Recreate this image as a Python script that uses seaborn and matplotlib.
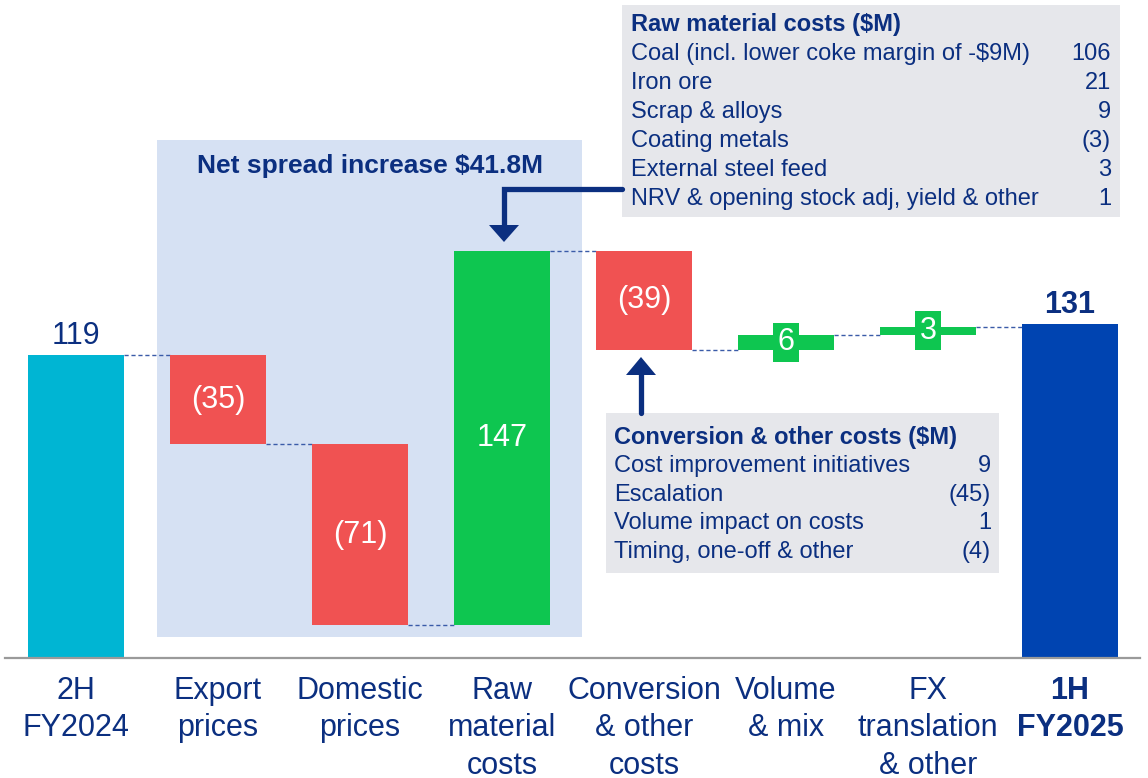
import matplotlib.pyplot as plt
import numpy as np
import seaborn as sns
from matplotlib.patches import Rectangle, Polygon
from matplotlib.lines import Line2D
from matplotlib.transforms import Affine2D

# Data
labels = ["2H\nFY2024", "Export\nprices", "Domestic\nprices", "Raw\nmaterial\ncosts",
          "Conversion\n& other\ncosts", "Volume\n& mix", "FX\ntranslation\n& other", "1H\nFY2025"]
changes = [119, -35, -71, 147, -39, 6, 3]
final_total = 131
bar_text = ["119", "(35)", "(71)", "147", "(39)", "6", "3", "131"]

raw_items = ["Coal (incl. lower coke margin of -$9M)", "Iron ore", "Scrap & alloys",
             "Coating metals", "External steel feed", "NRV & opening stock adj, yield & other"]
raw_values = ["106", "21", "9", "(3)", "3", "1"]
conv_items = ["Cost improvement initiatives", "Escalation", "Volume impact on costs",
              "Timing, one-off & other"]
conv_values = ["9", "(45)", "1", "(4)"]

NAVY = "#0B2F80"
TEAL = "#00B5D3"
RED = "#F05252"
GREEN = "#0EC650"
BLUE = "#0044B1"
SHADE = "#D6E1F3"
BOXGRAY = "#E6E7EB"

sns.set_theme(style="white")
plt.rcParams["font.family"] = ["Liberation Sans", "DejaVu Sans"]

# waterfall geometry
ends = np.cumsum(changes)
starts = ends - np.array(changes)
bottoms = list(np.minimum(starts, ends)) + [0]
heights = list(np.abs(changes)) + [final_total]
colors = [TEAL] + [RED if c < 0 else GREEN for c in changes[1:]] + [BLUE]

W, H = 1148, 778
fig = plt.figure(figsize=(W / 100, H / 100), dpi=100)
ax = fig.add_axes([0, 120 / H, 1, 658 / H])
ax.set_zorder(1)
# pixel transform (origin top-left) for annotation furniture
px = Affine2D().scale(1 / W, -1 / H).translate(0, 1) + fig.transFigure

# shaded "net spread" region
fig.patches.append(Rectangle((157, 140), 425, 497, transform=px, fc=SHADE, ec="none", zorder=-1))

bar_w = 0.67
sns.barplot(x=labels, y=heights, order=labels, bottom=bottoms, color=TEAL,
            width=bar_w, errorbar=None, ax=ax, zorder=2)
bars = list(ax.patches)[:len(labels)]
for b, c in zip(bars, colors):
    b.set_facecolor(c)
    b.set_edgecolor("none")

ax.set_facecolor("none")
ax.set_xlim(-76 / 142, (W - 76) / 142)
ax.set_ylim(0, 658 / 2.546)
for s in ["top", "right", "left"]:
    ax.spines[s].set_visible(False)
ax.spines["bottom"].set_color("#9A9A9A")
ax.spines["bottom"].set_linewidth(1.6)
ax.spines["bottom"].set_bounds(-0.5, 7.49)
ax.set_yticks([])
ax.set_ylabel("")
ax.tick_params(axis="x", length=0, pad=13, labelsize=22, labelcolor=NAVY)
for t in ax.get_xticklabels():
    t.set_linespacing(1.32)
ax.get_xticklabels()[-1].set_fontweight("bold")

# connectors
for i, lvl in enumerate(ends):
    ax.plot([i + bar_w / 2, i + 1 - bar_w / 2], [lvl, lvl], ls=(0, (3, 2)),
            color="#3A5BA8", lw=1.0, zorder=1)

# value labels
ax.text(0, heights[0] + 1.5, bar_text[0], ha="center", va="bottom", fontsize=22, color=NAVY)
ax.text(7, final_total + 1.8, bar_text[7], ha="center", va="bottom", fontsize=22,
        color=NAVY, fontweight="bold")
for i in range(1, 5):
    ax.text(i, bottoms[i] + heights[i] / 2, bar_text[i], ha="center", va="center",
            fontsize=22, color="white", zorder=3)
for i in (5, 6):
    ax.text(i, bottoms[i] + heights[i] / 2, bar_text[i], ha="center", va="center",
            fontsize=22, color="white", zorder=3,
            bbox=dict(boxstyle="square,pad=0.15", fc=GREEN, ec="none"))

# net spread title
fig.text(370 / W, 1 - 166 / H, "Net spread increase $41.8M", ha="center", va="center",
         fontsize=19, fontweight="bold", color=NAVY)

# raw material box
fig.patches.append(Rectangle((622, 5), 498, 212, transform=px, fc=BOXGRAY, ec="none", zorder=1))
fig.text(631 / W, 1 - 25 / H, "Raw material costs ($M)", ha="left", va="center",
         fontsize=17, fontweight="bold", color=NAVY, zorder=3)
for k, (t, v) in enumerate(zip(raw_items, raw_values)):
    y = 1 - (54 + 29 * k) / H
    fig.text(631 / W, y, t, ha="left", va="center", fontsize=17, color=NAVY, zorder=3)
    fig.text(1111 / W, y, v, ha="right", va="center", fontsize=17, color=NAVY, zorder=3)

# conversion box
fig.patches.append(Rectangle((606, 413), 393, 160, transform=px, fc=BOXGRAY, ec="none", zorder=1))
fig.text(614 / W, 1 - 437 / H, "Conversion & other costs ($M)", ha="left", va="center",
         fontsize=17, fontweight="bold", color=NAVY, zorder=3)
for k, (t, v) in enumerate(zip(conv_items, conv_values)):
    y = 1 - (466 + 28.7 * k) / H
    fig.text(614 / W, y, t, ha="left", va="center", fontsize=17, color=NAVY, zorder=3)
    fig.text(991 / W, y, v, ha="right", va="center", fontsize=17, color=NAVY, zorder=3)

# arrows
fig.lines.append(Line2D([622, 504, 504], [189, 189, 228], transform=px, color=NAVY,
                        lw=3.8, solid_joinstyle="miter", zorder=2))
fig.patches.append(Polygon([(489, 225), (519, 225), (504, 242)], closed=True, transform=px,
                           fc=NAVY, ec="none", zorder=2))
fig.lines.append(Line2D([641, 641], [413, 372], transform=px, color=NAVY, lw=3.8, zorder=2))
fig.patches.append(Polygon([(626, 375), (656, 375), (641, 357)], closed=True, transform=px,
                           fc=NAVY, ec="none", zorder=2))

fig.savefig("out.png", dpi=100)
